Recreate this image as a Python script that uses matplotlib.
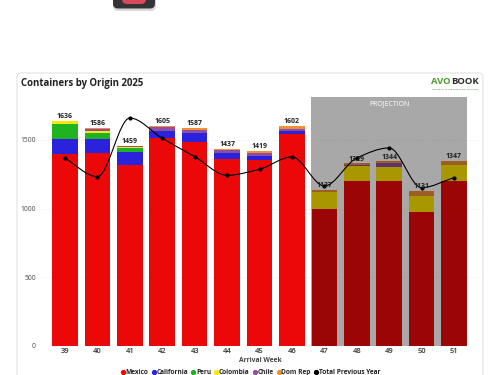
import matplotlib
matplotlib.use("Agg")
import matplotlib.pyplot as plt
from matplotlib.patches import FancyBboxPatch, PathPatch
from matplotlib.path import Path
from matplotlib.lines import Line2D
import numpy as np

plt.rcParams['font.family'] = ['Open Sans', 'DejaVu Sans']

weeks = [39, 40, 41, 42, 43, 44, 45, 46, 47, 48, 49, 50, 51]
totals = [1636, 1586, 1459, 1605, 1587, 1437, 1419, 1602, 1137, 1329, 1344, 1131, 1347]
mexico = [1398, 1408, 1316, 1517, 1486, 1360, 1355, 1544, 1000, 1200, 1200, 976, 1200]
california = [109, 97, 97, 49, 63, 43, 29, 22, 0, 0, 0, 0, 0]
peru = [110, 48, 27, 0, 0, 0, 0, 0, 0, 0, 0, 0, 0]
colombia = [19, 13, 10, 2, 2, 2, 0, 0, 122, 113, 106, 119, 118]
chile = [0, 12, 4, 29, 24, 23, 24, 14, 0, 6, 29, 0, 0]
dom_rep = [0, 8, 5, 8, 12, 9, 11, 22, 15, 10, 9, 36, 29]
prev_year = [1367, 1233, 1660, 1512, 1379, 1243, 1287, 1377, 1165, 1369, 1442, 1153, 1226]

names = ["Mexico", "California", "Peru", "Colombia", "Chile", "Dom Rep"]
colors = ["#EC0808", "#2A22DD", "#1FB31F", "#FFE600", "#8E4EA6", "#F09030"]
series = [mexico, california, peru, colombia, chile, dom_rep]


def monotone_path(x, y):
    # same idea as a monotone x curve, control points only
    x = np.array(x, dtype=float)
    y = np.array(y, dtype=float)
    s = np.diff(y) / np.diff(x)
    m = np.zeros(len(x))
    for i in range(1, len(x) - 1):
        if s[i - 1] * s[i] > 0:
            m[i] = 2 * s[i - 1] * s[i] / (s[i - 1] + s[i])
    m[0] = s[0]
    m[-1] = s[-1]
    verts = [(x[0], y[0])]
    codes = [Path.MOVETO]
    for i in range(len(x) - 1):
        h = (x[i + 1] - x[i]) / 3
        verts += [(x[i] + h, y[i] + m[i] * h), (x[i + 1] - h, y[i + 1] - m[i + 1] * h), (x[i + 1], y[i + 1])]
        codes += [Path.CURVE4] * 3
    return Path(verts, codes)


fig = plt.figure(figsize=(5, 3.75), dpi=100)
W, H = 500, 375


def box(x0, y0, x1, y1):
    return [x0 / W, 1 - y1 / H, (x1 - x0) / W, (y1 - y0) / H]


# card
bg = fig.add_axes([0, 0, 1, 1], zorder=0)
bg.set_xlim(0, W)
bg.set_ylim(H, 0)
bg.axis("off")
bg.add_patch(FancyBboxPatch((17, 73), 466, 330, boxstyle="round,pad=0,rounding_size=5",
                            fc="white", ec="#E8E8E8", lw=1))
# icon cut off at the top
bg.add_patch(FancyBboxPatch((113, -12), 43, 23, boxstyle="round,pad=0,rounding_size=5",
                            fc="#D8D8D8", ec="none"))
bg.add_patch(FancyBboxPatch((113, -12), 42, 20.5, boxstyle="round,pad=0,rounding_size=5",
                            fc="#333338", ec="none"))
bg.add_patch(FancyBboxPatch((122, -10), 24, 14, boxstyle="round,pad=0,rounding_size=5",
                            fc="#D84A5A", ec="none"))

bg.text(21, 83.5, "Containers by Origin 2025", fontsize=6.9, fontweight="bold",
        color="#222222", va="center", ha="left")
bg.text(431, 82, "AVO", fontsize=6.8, fontweight="bold", color="#4F9A2A", va="center", ha="left")
bg.text(451, 82, "BOOK", fontsize=6.8, fontweight="bold", color="#2A2A2A", va="center", ha="left")
bg.text(432, 89, "CONNECTING THE WORLD OF AVOCADOS", fontsize=1.7, color="#2F6A1A", va="center", ha="left")

ax = fig.add_axes(box(40, 97, 480, 346), zorder=1)
ax.patch.set_alpha(0)
x = np.arange(len(weeks))
bottom = np.zeros(len(weeks))
for vals, c in zip(series, colors):
    ax.bar(x, vals, width=0.79, bottom=bottom, color=c, zorder=2)
    bottom += np.array(vals)

ax.axvspan(7.6, 12.39, color="black", alpha=0.34, lw=0, zorder=3)
ax.text(10, 1762, "PROJECTION", color="white", fontsize=5.0, ha="center", va="center", zorder=5)

ax.add_patch(PathPatch(monotone_path(x, prev_year), fc="none", ec="black", lw=0.8, zorder=4))
ax.plot(x, prev_year, ls="none", marker="o", ms=2, color="black", zorder=4)

for i, t in enumerate(totals):
    ax.text(i, t + 6, str(t), ha="center", va="bottom", fontsize=5.0, fontweight="bold",
            color="#222222", zorder=5)

ax.set_xlim(-0.771, 12.8)
ax.set_ylim(0, 1813)
ax.set_xticks(x)
ax.set_xticklabels(weeks, fontsize=5.4, fontweight="semibold", color="#333333")
ax.set_yticks([0, 500, 1000, 1500])
ax.set_yticklabels(["0", "500", "1000", "1500"], fontsize=4.9, color="#444444")
ax.tick_params(axis="x", length=0, pad=1.5)
ax.tick_params(axis="y", length=0, pad=3)
ax.grid(axis="y", ls=":", lw=0.4, color="#E4E4E4", zorder=0)
ax.set_axisbelow(True)
for s in ax.spines.values():
    s.set_visible(False)
ax.set_xlabel("Arrival Week", fontsize=4.9, fontweight="bold", color="#444444", labelpad=1.5)

handles = [Line2D([], [], ls="none", marker="o", ms=2.8, color=c, label=n) for n, c in zip(names, colors)]
handles.append(Line2D([], [], ls="none", marker="o", ms=2.8, color="black", label="Total Previous Year"))
fig.legend(handles=handles, loc="center", bbox_to_anchor=(0.5, 1 - 373 / H), ncol=7, frameon=False,
           prop={"size": 4.7, "weight": "bold"}, labelcolor="#222222", handletextpad=-0.1,
           columnspacing=0.3, handlelength=1.0, borderpad=0)

fig.savefig("out.png", dpi=100)
